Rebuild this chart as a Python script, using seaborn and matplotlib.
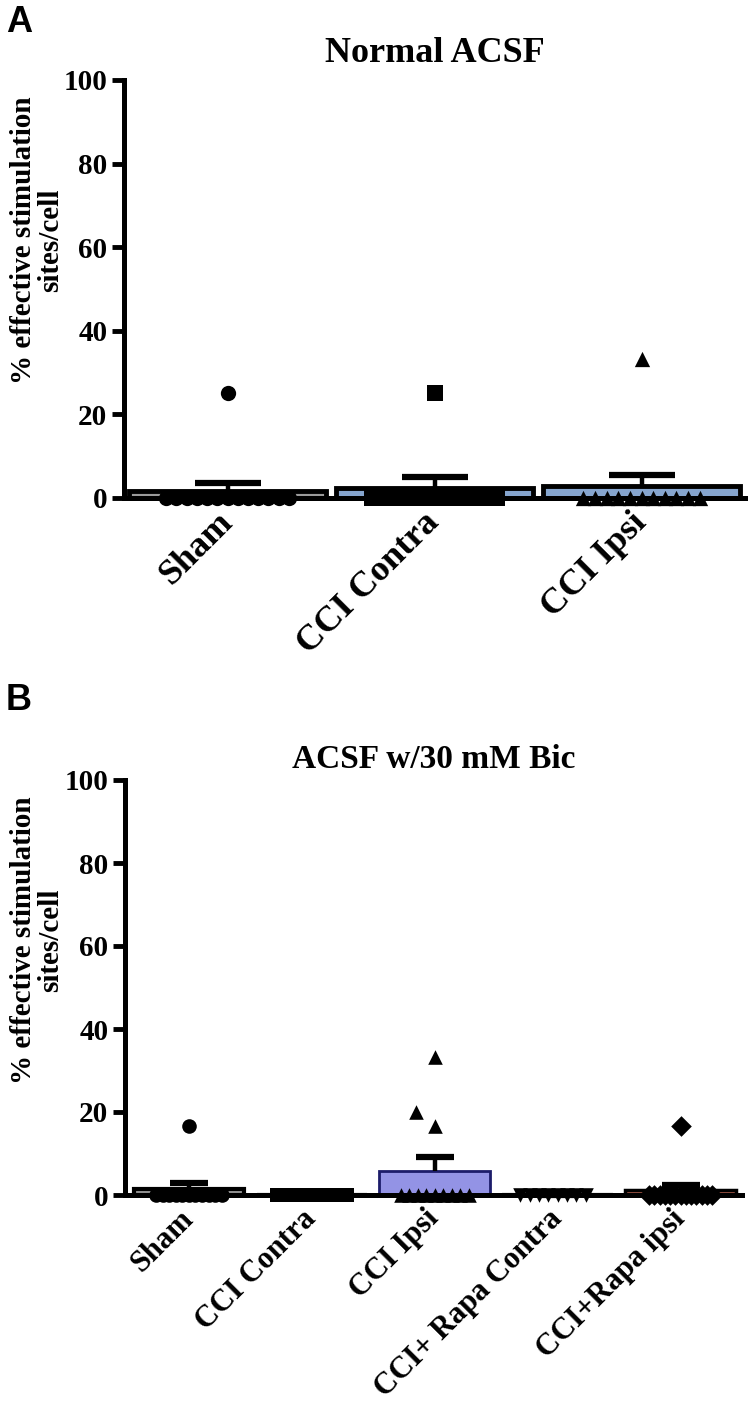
import numpy as np
import pandas as pd
import matplotlib
matplotlib.use("Agg")
import matplotlib.pyplot as plt
import seaborn as sns

# ---------------- data ----------------
groups_a = ["Sham", "CCI Contra", "CCI Ipsi"]
sham_a = [25.0] + [0.0] * 13
contra_a = [25.0] + [0.0] * 9
ipsi_a = [33.3] + [0.0] * 11

groups_b = ["Sham", "CCI Contra", "CCI Ipsi", "CCI+ Rapa Contra", "CCI+Rapa ipsi"]
sham_b = [16.7] + [0.0] * 11
contra_b = [0.0] * 9
ipsi_b = [33.3, 20.0, 16.7] + [0.0] * 9
rapa_contra_b = [0.0] * 8
rapa_ipsi_b = [16.7] + [0.0] * 13

yticks = [0, 20, 40, 60, 80, 100]
title_a = "Normal ACSF"
title_b = "ACSF w/30 mM Bic"
ylabel = "% effective stimulation\nsites/cell"

# ---------------- style ----------------
sns.set_theme(style="ticks")
plt.rcParams["font.family"] = ["Liberation Serif", "DejaVu Serif"]
plt.rcParams["font.weight"] = "bold"
for k in ("text.color", "axes.labelcolor", "xtick.color", "ytick.color", "axes.edgecolor"):
    plt.rcParams[k] = "black"

W, H = 750, 1410
fig = plt.figure(figsize=(W / 100, H / 100), dpi=100)


def px_axes(left, right, top, bottom):
    return fig.add_axes([left / W, 1 - bottom / H, (right - left) / W, (bottom - top) / H])


def panel(ax, groups, values, markers, fills, edges, edge_lw, bar_w, msize,
          zero_layout, big_layout, capsize, xfont, title, title_fs, title_y,
          label_center_y, letter, letter_y, xlim):
    df = pd.DataFrame({
        "group": np.repeat(groups, [len(v) for v in values]),
        "value": np.concatenate([np.asarray(v, float) for v in values]),
    })
    sns.barplot(data=df, x="group", y="value", order=groups, hue="group",
                hue_order=groups, palette=fills, errorbar=None, width=bar_w,
                ax=ax, legend=False, zorder=1)
    for p, ec, lw in zip(ax.patches, edges, edge_lw):
        p.set_edgecolor(ec)
        p.set_linewidth(lw)
        p.set_clip_on(False)

    colls = []
    for i, g in enumerate(groups):
        sub = df[df["group"] == g]
        before = len(ax.collections)
        sns.swarmplot(data=sub, x="group", y="value", order=groups, color="black",
                      marker=markers[i], size=msize, ax=ax, zorder=3, linewidth=0)
        new = [c for c in ax.collections[before:] if len(c.get_offsets()) > 0]
        coll = new[-1]
        lay = np.where(sub["value"].values == 0, zero_layout[i], big_layout)
        coll.set_sizes(lay ** 2)
        coll.set_clip_on(False)
        colls.append((coll, msize))

    means = np.array([np.mean(v) for v in values])
    sems = np.array([np.std(v, ddof=1) / np.sqrt(len(v)) for v in values])
    xs = np.arange(len(groups))
    _, caps, _ = ax.errorbar(xs, means, yerr=[np.zeros_like(sems), sems], fmt="none",
                             ecolor="black", elinewidth=3.2, capsize=capsize,
                             capthick=4.5, zorder=4, clip_on=False)
    if len(caps) == 2:
        caps[0].set_visible(False)

    ax.set_ylim(0, 100)
    ax.set_xlim(*xlim)
    ax.set_yticks(yticks)
    ax.set_yticklabels([str(t) for t in yticks], fontsize=21, fontweight="bold")
    ax.set_xlabel("")
    ax.set_ylabel("")
    ax.tick_params(axis="y", length=9, width=3.5, pad=3, color="black")
    ax.tick_params(axis="x", length=0, pad=14)
    ax.set_xticks(xs)
    ax.set_xticklabels(groups, rotation=45, ha="right", va="center",
                       rotation_mode="anchor", fontsize=xfont, fontweight="bold")
    sns.despine(ax=ax)
    for s in ("left", "bottom"):
        ax.spines[s].set_linewidth(3.6)
        ax.spines[s].set_color("black")
    ax.set_facecolor("none")

    fig.text(0.5 * (ax.get_position().x0 + ax.get_position().x1), 1 - title_y / H, title,
             ha="center", va="baseline", fontsize=title_fs, fontweight="bold")
    fig.text(37 / W, 1 - label_center_y / H, ylabel, rotation=90, ha="center",
             va="center", multialignment="center", fontsize=21, fontweight="bold",
             linespacing=1.0)
    fig.text(6 / W, 1 - letter_y / H, letter, ha="left", va="baseline",
             fontsize=26, fontweight="bold", family="Liberation Sans")
    return colls


axA = px_axes(124, 745, 80, 498)
colls = panel(axA, groups_a, [sham_a, contra_a, ipsi_a], ["o", "s", "^"],
              ["#9a9a9a", "#7aa3da", "#7aa3da"], ["black"] * 3, [3.5, 3.5, 3.5],
              0.95, 11, [7.0, 10.7, 8.0], 11, 24, 26, title_a, 26, 62, 240,
              "A", 32, (-0.5, 2.5))

axB = px_axes(125, 742, 780, 1195)
colls += panel(axB, groups_b, [sham_b, contra_b, ipsi_b, rapa_contra_b, rapa_ipsi_b],
               ["o", "s", "^", "v", "D"],
               ["#9a9a9a", "#222222", "#8585f3", "#222222", "#c0543a"],
               ["black", "black", "#1c1c6a", "black", "black"], [3.0, 3.0, 2.0, 3.0, 2.5],
               0.9, 10.5, [4.5, 6.0, 5.8, 6.4, 3.6], 16, 14, 22, title_b, 24, 768, 940,
               "B", 710, (-0.52, 4.5))

fig.canvas.draw()
for c, s in colls:
    if "draw" in c.__dict__:
        del c.draw
    c.set_sizes([s ** 2])

fig.savefig("out.png", dpi=100, facecolor="white")
